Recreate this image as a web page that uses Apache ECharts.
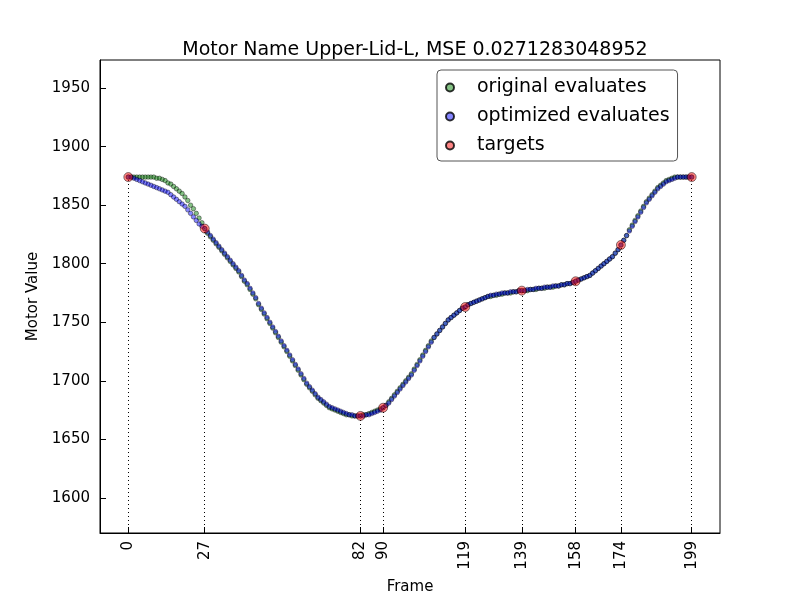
<!DOCTYPE html>
<html><head><meta charset="utf-8">
<script src="https://cdn.jsdelivr.net/npm/echarts@6/dist/echarts.min.js"></script>
<style>html,body{margin:0;background:#fff}#c{width:800px;height:600px}</style>
</head><body><div id="c"></div>
<script>
// target frames and values
var targetFrames = [0, 27, 82, 90, 119, 139, 158, 174, 199];
var targetValues = [1874, 1830, 1670, 1677, 1763, 1777, 1785, 1816, 1874];

// optimized evaluates, one per frame 0..199
var optimized = [
  1874,1874,1873,1872,1871,1870,1869,1868,1867,1866,
  1865,1864,1863,1862,1861,1859,1857,1855,1853,1851,
  1849,1846,1843,1840,1837,1834,1832,1830,1827,1824,
  1821,1818,1815,1812,1809,1806,1803,1800,1797,1794,
  1790,1786,1783,1779,1775,1771,1766,1762,1758,1754,
  1750,1746,1742,1738,1734,1730,1726,1722,1718,1714,
  1710,1706,1702,1698,1695,1692,1689,1686,1684,1682,
  1680,1678,1677,1676,1675,1674,1673,1672,1671,1671,
  1670,1670,1670,1670,1671,1671,1672,1673,1674,1675,
  1677,1679,1681,1684,1687,1690,1693,1696,1699,1702,
  1705,1709,1713,1717,1721,1725,1729,1733,1737,1740,
  1743,1746,1749,1752,1754,1756,1758,1760,1762,1763,
  1765,1766,1767,1768,1769,1770,1771,1772,1773,1773,
  1774,1774,1775,1775,1775,1776,1776,1776,1777,1777,
  1777,1778,1778,1778,1779,1779,1779,1780,1780,1780,
  1781,1781,1781,1782,1782,1783,1783,1784,1785,1786,
  1787,1788,1789,1790,1792,1794,1796,1798,1800,1802,
  1804,1806,1809,1812,1816,1820,1824,1828,1832,1836,
  1840,1844,1848,1852,1855,1858,1861,1864,1866,1868,
  1870,1871,1872,1873,1874,1874,1874,1874,1874,1874
];

// original evaluates, one per frame 0..199
var original = [
  1874,1874,1874,1874,1874,1874,1874,1874,1874,1874,
  1873,1873,1872,1871,1869,1868,1866,1864,1862,1860,
  1857,1854,1850,1847,1843,1839,1835,1830,1826,1823,
  1820,1817,1814,1811,1808,1805,1802,1799,1796,1793,
  1789,1785,1782,1778,1774,1770,1765,1761,1757,1753,
  1749,1745,1741,1737,1733,1729,1725,1721,1717,1713,
  1709,1705,1701,1697,1694,1691,1688,1685,1683,1681,
  1679,1677,1676,1675,1674,1673,1672,1671,1671,1670,
  1670,1670,1670,1671,1671,1672,1673,1674,1675,1676,
  1677,1679,1682,1685,1688,1691,1694,1697,1700,1703,
  1706,1710,1714,1718,1722,1726,1730,1734,1737,1740,
  1743,1746,1749,1752,1754,1756,1758,1760,1762,1763,
  1765,1766,1767,1768,1769,1770,1771,1772,1772,1773,
  1773,1774,1774,1775,1775,1775,1776,1776,1777,1777,
  1777,1777,1778,1778,1778,1779,1779,1779,1780,1780,
  1780,1781,1781,1782,1782,1783,1783,1784,1785,1786,
  1787,1788,1789,1790,1792,1794,1796,1798,1800,1802,
  1804,1806,1809,1812,1816,1820,1824,1829,1833,1837,
  1841,1845,1849,1853,1856,1859,1862,1865,1867,1869,
  1871,1872,1873,1874,1874,1874,1874,1874,1874,1874
];

var yTicks = [1600, 1650, 1700, 1750, 1800, 1850, 1900, 1950];
var yMin = 1570, yMax = 1974;

var chart = echarts.init(document.getElementById('c'));
var font = 'DejaVu Sans';
var targets = targetFrames.map(function (f, i) { return [f, targetValues[i]]; });
var drops = targetFrames.map(function (f, i) {
  return [{ coord: [f, yMin] }, { coord: [f, targetValues[i]] }];
});
var plain = function (v) { return String(v); };

chart.setOption({
  animation: false,
  textStyle: { fontFamily: font },
  title: {
    text: 'Motor Name Upper-Lid-L, MSE 0.0271283048952',
    left: 410, top: 36, textAlign: 'center',
    textStyle: { fontSize: 19, fontWeight: 'normal', color: '#000', fontFamily: font }
  },
  grid: { left: 100, right: 80, top: 60, bottom: 60, show: true, borderColor: '#000', borderWidth: 1 },
  legend: {
    orient: 'vertical', left: 437, top: 70,
    padding: [8, 8, 6, 8], itemGap: 10,
    borderColor: '#555', borderWidth: 1, borderRadius: 4,
    itemWidth: 44, itemHeight: 8,
    textStyle: { fontSize: 19, color: '#000', fontFamily: font },
    data: ['original evaluates', 'optimized evaluates', 'targets']
  },
  xAxis: {
    type: 'value', min: -10, max: 209,
    name: 'Frame', nameLocation: 'middle', nameGap: 47,
    nameTextStyle: { fontSize: 15, color: '#000' },
    splitLine: { show: false },
    axisLine: { onZero: false, lineStyle: { color: '#000' } },
    axisTick: { inside: true, length: 6, customValues: targetFrames, lineStyle: { color: '#000' } },
    axisLabel: { rotate: 90, fontSize: 15, color: '#000', customValues: targetFrames, margin: 8, formatter: plain }
  },
  yAxis: {
    type: 'value', min: yMin, max: yMax,
    name: 'Motor Value', nameLocation: 'middle', nameGap: 58,
    nameTextStyle: { fontSize: 15, color: '#000' },
    splitLine: { show: false },
    axisLine: { onZero: false, lineStyle: { color: '#000' } },
    axisTick: { inside: true, length: 6, customValues: yTicks, lineStyle: { color: '#000' } },
    axisLabel: { fontSize: 15, color: '#000', customValues: yTicks, margin: 10, formatter: plain }
  },
  series: [
    {
      name: 'original evaluates', type: 'scatter', symbolSize: 4.5,
      data: original.map(function (v, i) { return [i, v]; }),
      itemStyle: { color: 'rgba(0,128,0,0.6)', borderColor: '#000', borderWidth: 0.5 },
      markLine: {
        silent: true, symbol: 'none', label: { show: false },
        lineStyle: { type: [1, 3], color: '#000', width: 1 },
        data: drops
      }
    },
    {
      name: 'optimized evaluates', type: 'scatter', symbolSize: 4.5,
      data: optimized.map(function (v, i) { return [i, v]; }),
      itemStyle: { color: 'rgba(0,0,255,0.6)', borderColor: '#000', borderWidth: 0.5 }
    },
    {
      name: 'targets', type: 'scatter', symbolSize: 9, z: 5,
      data: targets,
      itemStyle: { color: 'rgba(255,0,0,0.6)', borderColor: '#000', borderWidth: 0.6 }
    }
  ]
});
</script>
</body></html>
